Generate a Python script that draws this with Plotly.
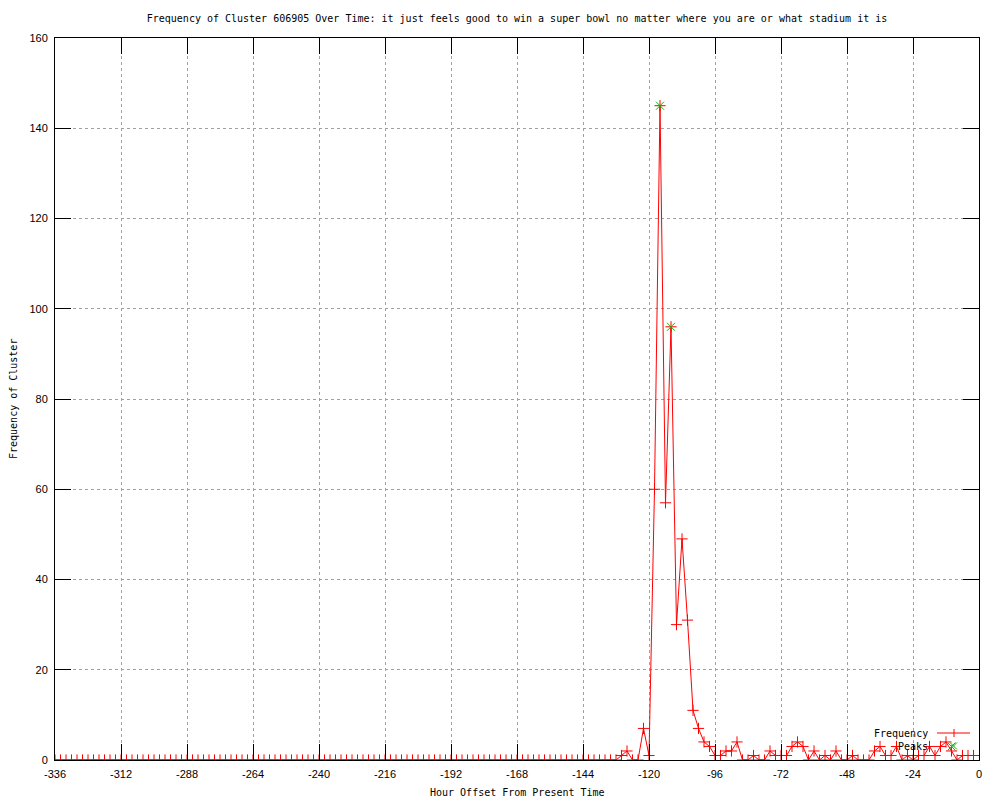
import plotly.graph_objects as go

# ---- data ----
hours = [
    -336, -334, -332, -330, -328, -326, -324, -322, -320, -318, -316, -314,
    -312, -310, -308, -306, -304, -302, -300, -298, -296, -294, -292, -290,
    -288, -286, -284, -282, -280, -278, -276, -274, -272, -270, -268, -266,
    -264, -262, -260, -258, -256, -254, -252, -250, -248, -246, -244, -242,
    -240, -238, -236, -234, -232, -230, -228, -226, -224, -222, -220, -218,
    -216, -214, -212, -210, -208, -206, -204, -202, -200, -198, -196, -194,
    -192, -190, -188, -186, -184, -182, -180, -178, -176, -174, -172, -170,
    -168, -166, -164, -162, -160, -158, -156, -154, -152, -150, -148, -146,
    -144, -142, -140, -138, -136, -134, -132, -130, -128, -126, -124, -122,
    -120, -118, -116, -114, -112, -110, -108, -106, -104, -102, -100, -98,
    -96, -94, -92, -90, -88, -86, -84, -82, -80, -78, -76, -74,
    -72, -70, -68, -66, -64, -62, -60, -58, -56, -54, -52, -50,
    -48, -46, -44, -42, -40, -38, -36, -34, -32, -30, -28, -26,
    -24, -22, -20, -18, -16, -14, -12, -10, -8, -6, -4, -2,
]
frequency = [
    0, 0, 0, 0, 0, 0, 0, 0, 0, 0, 0, 0,
    0, 0, 0, 0, 0, 0, 0, 0, 0, 0, 0, 0,
    0, 0, 0, 0, 0, 0, 0, 0, 0, 0, 0, 0,
    0, 0, 0, 0, 0, 0, 0, 0, 0, 0, 0, 0,
    0, 0, 0, 0, 0, 0, 0, 0, 0, 0, 0, 0,
    0, 0, 0, 0, 0, 0, 0, 0, 0, 0, 0, 0,
    0, 0, 0, 0, 0, 0, 0, 0, 0, 0, 0, 0,
    0, 0, 0, 0, 0, 0, 0, 0, 0, 0, 0, 0,
    0, 0, 0, 0, 0, 0, 0, 1, 2, 0, 0, 7,
    1, 60, 145, 57, 96, 30, 49, 31, 11, 7, 4, 3,
    1, 1, 2, 2, 4, 0, 0, 1, 0, 0, 2, 1,
    1, 1, 3, 4, 3, 0, 2, 0, 1, 0, 2, 0,
    0, 1, 0, 0, 0, 2, 3, 1, 1, 3, 0, 1,
    0, 1, 1, 3, 1, 3, 4, 2, 0, 1, 1, 1,
]
peak_hours = [-116, -112, -10]
peak_values = [145, 96, 3]

x_ticks = [-336, -312, -288, -264, -240, -216, -192, -168, -144, -120, -96, -72, -48, -24, 0]
y_ticks = [0, 20, 40, 60, 80, 100, 120, 140, 160]

title_text = ("Frequency of Cluster 606905 Over Time: it just feels good to win a "
              "super bowl no matter where you are or what stadium it is")
x_title = "Hour Offset From Present Time"
y_title = "Frequency of Cluster"

RED = "#ff0000"
GREEN = "#00c000"
MONO = "DejaVu Sans Mono"
SANS = "Liberation Sans"

fig = go.Figure()
fig.add_trace(go.Scatter(
    x=hours, y=frequency, mode="lines+markers", name="Frequency",
    line=dict(color=RED, width=1),
    marker=dict(symbol="cross-thin", size=8, color=RED, line=dict(color=RED, width=1)),
    showlegend=False,
))
fig.add_trace(go.Scatter(
    x=peak_hours, y=peak_values, mode="markers", name="Peaks",
    marker=dict(symbol="x-thin", size=8, color=GREEN, line=dict(color=GREEN, width=1)),
    showlegend=False,
))

# page offset from the browser's default body margin
OFF = 8
W, H = 992, 792
L, T = 55 - OFF, 38 - OFF
R = W - (979 - OFF)
B = H - (760 - OFF)
PW, PH = W - L - R, H - T - B


def px(xpage):
    return (xpage - OFF - L) / PW


def py(ypage):
    return (H - B - (ypage - OFF)) / PH


axis_common = dict(
    showline=True, linecolor="black", linewidth=1, mirror="allticks",
    ticks="inside", ticklen=16, tickcolor="black", tickwidth=1,
    showgrid=True, gridcolor="#a0a0a0", gridwidth=1, griddash="3px,3px",
    zeroline=False, tickfont=dict(family=SANS, size=11, color="black"),
)

fig.update_xaxes(range=[-336, 0], tickmode="array", tickvals=x_ticks,
                 ticktext=[str(v) for v in x_ticks], ticklabelstandoff=4, **axis_common)
fig.update_yaxes(range=[0, 160], tickmode="array", tickvals=y_ticks,
                 ticktext=[str(v) for v in y_ticks], ticklabelstandoff=4, **axis_common)

# legend drawn gnuplot-style: text right-aligned, sample to the right
leg_shapes = [
    dict(type="line", xref="paper", yref="paper", x0=px(937), x1=px(970), y0=py(733), y1=py(733),
         line=dict(color=RED, width=1)),
    dict(type="line", xref="paper", yref="paper", x0=px(954), x1=px(954), y0=py(729), y1=py(737),
         line=dict(color=RED, width=1)),
    dict(type="line", xref="paper", yref="paper", x0=px(950), x1=px(957), y0=py(742.5), y1=py(749.5),
         line=dict(color=GREEN, width=1)),
    dict(type="line", xref="paper", yref="paper", x0=px(950), x1=px(957), y0=py(749.5), y1=py(742.5),
         line=dict(color=GREEN, width=1)),
]

annotations = [
    dict(text="Frequency", xref="paper", yref="paper", x=px(930), y=py(733),
         xanchor="right", yanchor="middle", showarrow=False,
         font=dict(family=MONO, size=10, color="black")),
    dict(text="Peaks", xref="paper", yref="paper", x=px(930), y=py(746),
         xanchor="right", yanchor="middle", showarrow=False,
         font=dict(family=MONO, size=10, color="black")),
    dict(text=x_title, xref="paper", yref="paper", x=0.5, y=py(792),
         xanchor="center", yanchor="middle", showarrow=False,
         font=dict(family=MONO, size=10, color="black")),
    dict(text=y_title, xref="paper", yref="paper", x=px(13), y=0.5, textangle=-90,
         xanchor="center", yanchor="middle", showarrow=False,
         font=dict(family=MONO, size=10, color="black")),
]

fig.update_layout(
    width=W, height=H,
    margin=dict(l=L, r=R, t=T, b=B),
    paper_bgcolor="white", plot_bgcolor="white",
    title=dict(text=title_text, x=0.5, xanchor="center", y=1 - (18 - OFF) / H, yanchor="middle",
               yref="container", xref="paper", font=dict(family=MONO, size=10, color="black")),
    shapes=leg_shapes,
    annotations=annotations,
    showlegend=False,
)

fig.write_html("out.html")
